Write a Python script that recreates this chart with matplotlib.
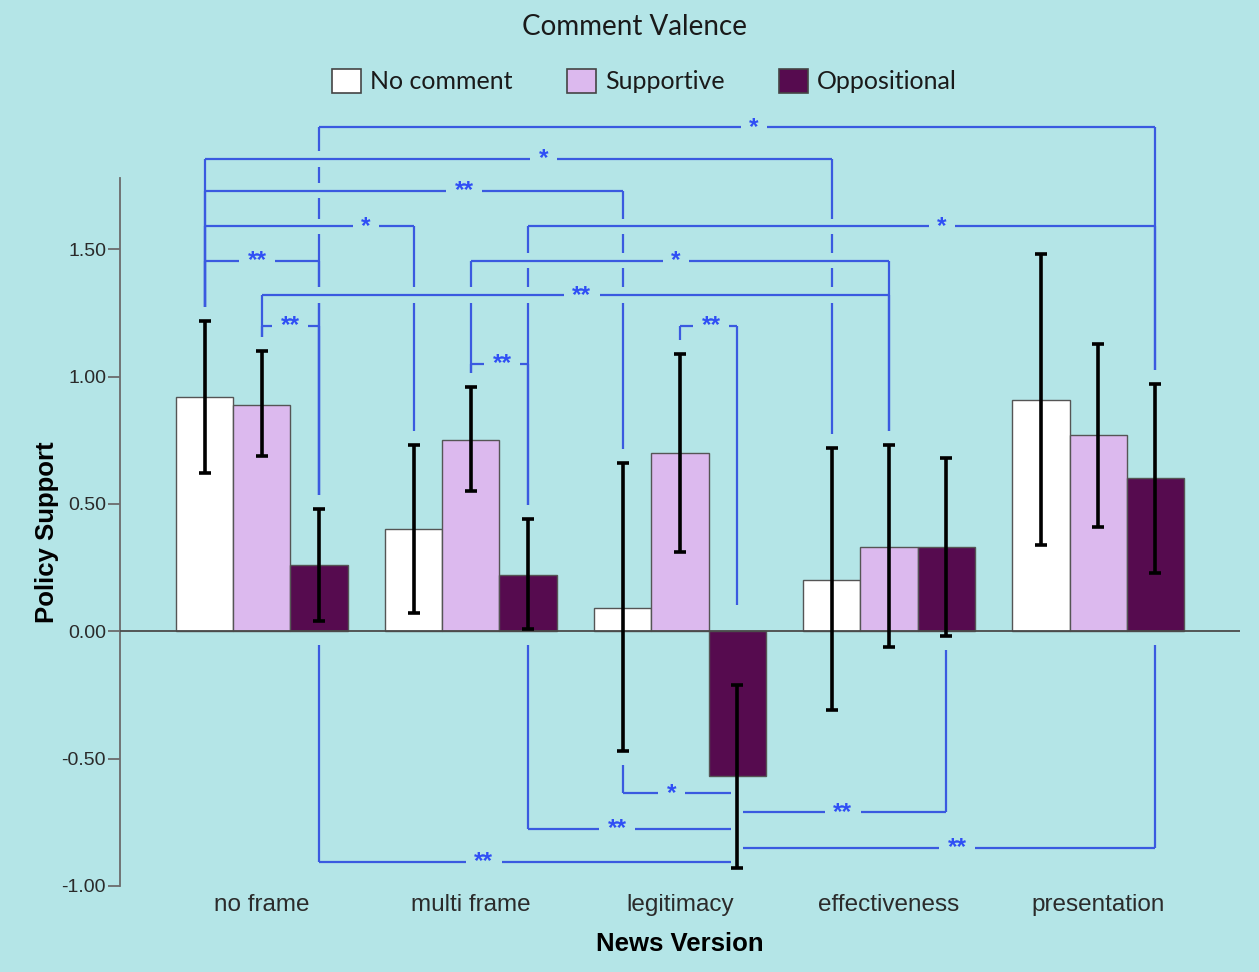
import numpy as np
import matplotlib.pyplot as plt
from matplotlib.patches import Patch

# data
versions = ['no frame', 'multi frame', 'legitimacy', 'effectiveness', 'presentation']
valence = ['No comment', 'Supportive', 'Oppositional']

mean_none = [0.92, 0.40, 0.09, 0.20, 0.91]
mean_supp = [0.89, 0.75, 0.70, 0.33, 0.77]
mean_opp = [0.26, 0.22, -0.57, 0.33, 0.60]

lo_none = [0.62, 0.07, -0.47, -0.31, 0.34]
hi_none = [1.22, 0.73, 0.66, 0.72, 1.48]
lo_supp = [0.69, 0.55, 0.31, -0.06, 0.41]
hi_supp = [1.10, 0.96, 1.09, 0.73, 1.13]
lo_opp = [0.04, 0.01, -0.93, -0.02, 0.23]
hi_opp = [0.48, 0.44, -0.21, 0.68, 0.97]

# significance brackets: (group1, bar1, group2, bar2, level, label)
top_brackets = [
    (0, 2, 4, 2, 1.98, '*'),
    (0, 0, 3, 0, 1.855, '*'),
    (0, 0, 2, 0, 1.73, '**'),
    (0, 0, 1, 0, 1.59, '*'),
    (1, 2, 4, 2, 1.59, '*'),
    (0, 0, 0, 2, 1.455, '**'),
    (1, 1, 3, 1, 1.455, '*'),
    (0, 1, 3, 1, 1.32, '**'),
    (0, 1, 0, 2, 1.20, '**'),
    (2, 1, 2, 2, 1.20, '**'),
    (1, 1, 1, 2, 1.05, '**'),
]
bottom_brackets = [
    (2, 0, 2, 2, -0.635, '*'),
    (2, 2, 3, 2, -0.71, '**'),
    (1, 2, 2, 2, -0.775, '**'),
    (2, 2, 4, 2, -0.85, '**'),
    (0, 2, 2, 2, -0.905, '**'),
]
top_star_pos = [0.52, 0.54, 0.62, 0.77, 0.66, 0.46, 0.49, 0.51, 0.5, 0.55, 0.55]
bottom_star_pos = [0.45, 0.49, 0.44, 0.52, 0.40]

bg = '#b4e5e7'
bar_colors = ['#ffffff', '#dcb9ee', '#560b4f']
line_blue = '#3a5ae0'
star_blue = '#2f4ff5'

means = [mean_none, mean_supp, mean_opp]
los = [lo_none, lo_supp, lo_opp]
his = [hi_none, hi_supp, hi_opp]

fig = plt.figure(figsize=(12.59, 9.72), dpi=100, facecolor=bg)
ax = fig.add_axes([0.0953, 0.0885, 0.8896, 0.7284])
ax.set_facecolor(bg)

x = np.arange(len(versions))
width = 0.273

for b in range(3):
    m = np.array(means[b])
    err = np.vstack([m - np.array(los[b]), np.array(his[b]) - m])
    ax.bar(x + (b - 1) * width, m, width, color=bar_colors[b],
           edgecolor='#555555', linewidth=1, zorder=2)
    ax.errorbar(x + (b - 1) * width, m, yerr=err, fmt='none', ecolor='black',
                elinewidth=2.6, capsize=4.5, capthick=2.6, zorder=4)

ax.axhline(0, color='#4a4a4a', linewidth=1.3, zorder=3)

ax.set_xlim(-0.679, 4.679)
ax.set_ylim(-1.0, 1.78)
ax.set_yticks([-1.0, -0.5, 0.0, 0.5, 1.0, 1.5])
ax.set_yticklabels(['-1.00', '-0.50', '0.00', '0.50', '1.00', '1.50'])
ax.set_xticks(x)
ax.set_xticklabels(versions)
for s in ['top', 'right', 'bottom']:
    ax.spines[s].set_visible(False)
ax.spines['left'].set_color('#6b6b6b')
ax.spines['left'].set_linewidth(1.3)
ax.tick_params(axis='y', length=9, width=1.3, color='#6b6b6b',
               labelsize=14, labelcolor='#2a2a2a', pad=1)
ax.tick_params(axis='x', length=0, labelsize=17.5, labelcolor='#2b2b2b', pad=6)
for t in ax.get_xticklabels() + ax.get_yticklabels():
    t.set_family('Liberation Sans')
ax.set_xlabel('News Version', fontsize=18.5, fontweight='bold',
              family='Liberation Sans', labelpad=11)
ax.set_ylabel('Policy Support', fontsize=18.5, fontweight='bold',
              family='Liberation Sans', labelpad=2)


def bar_x(g, b):
    return x[g] + (b - 1) * width


# collect bracket segments first so crossings can be cut
hsegs = []
vsegs = []
stars = []
vgap = 0.055
for brs, fr, top in [(top_brackets, top_star_pos, True),
                     (bottom_brackets, bottom_star_pos, False)]:
    for (g1, b1, g2, b2, lev, lab), f in zip(brs, fr):
        xs = []
        for g, b, side in [(g1, b1, 1), (g2, b2, -1)]:
            xe = bar_x(g, b)
            if top:
                end = max(his[b][g], 0.05) + vgap
                vsegs.append((xe, end, lev))
            elif los[b][g] < lev:
                # error bar passes the bracket level: stop short, no drop line
                xe = xe + side * 0.03
            else:
                end = min(los[b][g], 0) - vgap
                vsegs.append((xe, lev, end))
            xs.append(xe)
        hsegs.append((min(xs), max(xs), lev))
        stars.append((min(xs) + f * (max(xs) - min(xs)), lev, lab))

cut = 0.03
for xv, y1, y2 in vsegs:
    ya, yb = min(y1, y2), max(y1, y2)
    cuts = sorted(yh for x1, x2, yh in hsegs
                  if x1 < xv - 0.01 and x2 > xv + 0.01 and ya < yh < yb)
    pts = [ya]
    for c in cuts:
        pts += [c - cut, c + cut]
    pts.append(yb)
    for i in range(0, len(pts), 2):
        ax.plot([xv, xv], [pts[i], pts[i + 1]], color=line_blue, lw=1.6,
                clip_on=False, zorder=5, solid_capstyle='butt')

for x1, x2, yh in hsegs:
    ax.plot([x1, x2], [yh, yh], color=line_blue, lw=1.6, clip_on=False,
            zorder=5, solid_capstyle='butt')

for xs_, ys_, lab in stars:
    ax.text(xs_, ys_, lab, ha='center', va='center', color=star_blue,
            fontsize=17.5, fontweight='bold', family='Liberation Sans',
            clip_on=False, zorder=7,
            bbox=dict(boxstyle='square,pad=0.35', fc=bg, ec='none'))

fig.text(0.504, 1 - 27 / 972, 'Comment Valence', ha='center', va='center',
         family='Lato', fontsize=20, color='#1a1a1a')
handles = [Patch(facecolor=c, edgecolor='#444444', linewidth=1.2) for c in bar_colors]
leg = fig.legend(handles, valence, loc='center', bbox_to_anchor=(0.512, 1 - 81 / 972),
                 ncol=3, frameon=False,
                 prop={'family': 'Lato', 'size': 18},
                 handlelength=1.15, handleheight=1.15, handletextpad=0.35,
                 columnspacing=2.2)
for t in leg.get_texts():
    t.set_color('#1a1a1a')

fig.savefig('out.png', dpi=100, facecolor=bg)
